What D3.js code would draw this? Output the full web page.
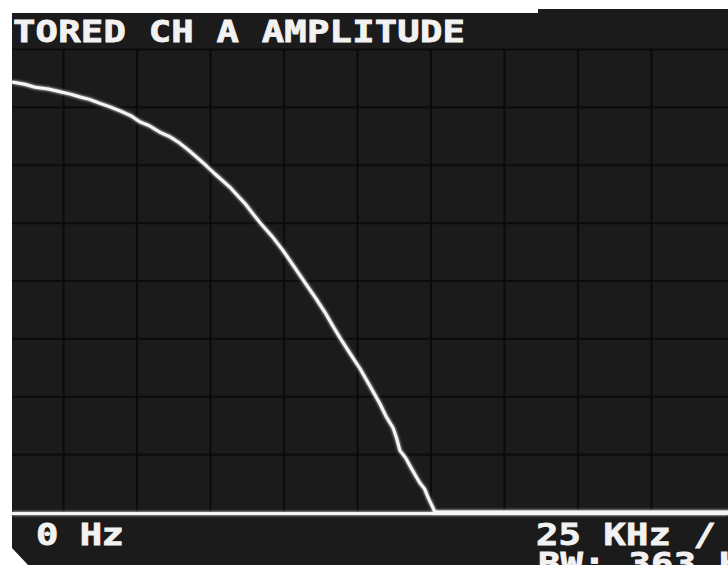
<!DOCTYPE html>
<html>
<head>
<meta charset="utf-8">
<script src="https://cdn.jsdelivr.net/npm/d3@7"></script>
<style>
  body { margin: 0; background: #fff; }
  svg { display: block; }
  text { font-family: "DejaVu Sans Mono", monospace; font-weight: bold; fill: #f2f2f2; }
</style>
</head>
<body>
<svg></svg>
<script>
var W = 728, H = 565;

// data: trace, frequency in kHz, amplitude in dB (10 dB/div)
var freq = [0.77, 1.2, 1.55, 2.0, 2.4, 2.75, 3.08, 3.4, 3.76, 4.1, 4.44, 4.8, 5.12, 5.45,
  5.8, 6.15, 6.48, 6.8, 7.16, 7.4, 7.67, 7.9, 8.18, 8.45, 8.69, 8.95, 9.2, 9.6, 9.98,
  10.4, 10.8, 11.1, 11.41, 11.65, 11.92, 12.25, 12.6, 12.95, 13.28, 13.5, 13.73, 13.85,
  13.96, 14.15, 14.3, 14.48, 14.64, 14.8, 14.91, 15.05, 15.15, 15.6, 25.2];
var ampl = [-5.7, -6.1, -6.6, -6.9, -7.4, -7.8, -8.3, -8.7, -9.4, -10.0, -10.7, -11.5, -12.6, -13.3,
  -14.4, -15.2, -16.3, -17.6, -19.2, -20.3, -21.6, -22.6, -23.9, -25.4, -26.7, -28.4, -30.0, -32.3, -34.8,
  -37.9, -40.9, -43.1, -45.5, -47.6, -49.9, -52.5, -55.2, -58.3, -61.3, -63.6, -65.5, -67.3,
  -69.4, -70.6, -72.0, -73.6, -75.0, -76.0, -77.4, -78.9, -80, -80, -80];

var freqTicks = [2.5, 5, 7.5, 10, 12.5, 15, 17.5, 20, 22.5];
var amplTicks = [-70, -60, -50, -40, -30, -20, -10, 0];
var title = "TORED CH A AMPLITUDE";
var startLabel = "0 Hz";
var stopLabel = "25 KHz /";
var bwLabel = "BW: 363 Hz";

var svg = d3.select("svg").attr("width", W).attr("height", H);

var defs = svg.append("defs");
var glow = defs.append("filter").attr("id", "glow")
  .attr("filterUnits", "userSpaceOnUse")
  .attr("x", 0).attr("y", 0).attr("width", W).attr("height", H);
glow.append("feGaussianBlur").attr("stdDeviation", 1.6).attr("result", "b");
var m = glow.append("feMerge");
m.append("feMergeNode").attr("in", "b");
m.append("feMergeNode").attr("in", "SourceGraphic");

// screen
svg.append("path")
  .attr("d", "M12,13 L538,13 L538,9 L728,9 L728,565 L28,565 L12,548 Z")
  .attr("fill", "#1b1b1b");

// scales
var x = d3.scaleLinear().domain([0, 25]).range([-10.5, 724.5]);
var y = d3.scaleLinear().domain([-80, 0]).range([512, 49]);

var plot = svg.append("g");

// grid
plot.append("g")
  .attr("transform", "translate(0,512)")
  .call(d3.axisBottom(x).tickValues(freqTicks).tickSize(-(512 - 49)).tickFormat(""))
  .call(g => g.select(".domain").remove())
  .call(g => g.selectAll("line").attr("stroke", "#080808").attr("stroke-width", 2.2).attr("opacity", 0.75));

plot.append("g")
  .attr("transform", "translate(12,0)")
  .call(d3.axisLeft(y).tickValues(amplTicks).tickSize(-(W - 12)).tickFormat(""))
  .call(g => g.select(".domain").remove())
  .call(g => g.selectAll("line").attr("stroke", "#080808").attr("stroke-width", 2.2).attr("opacity", 0.75));

// baseline
plot.append("line")
  .attr("x1", 12).attr("x2", W)
  .attr("y1", y(-80) + 1.5).attr("y2", y(-80) + 1.5)
  .attr("stroke", "#f4f4f4").attr("stroke-width", 3)
  .attr("filter", "url(#glow)");

// trace
var pts = freq.map((f, i) => [f, ampl[i]]);
plot.append("path")
  .datum(pts)
  .attr("d", d3.line().x(d => x(d[0])).y(d => y(d[1])))
  .attr("fill", "none")
  .attr("stroke", "#f6f6f6")
  .attr("stroke-width", 3)
  .attr("stroke-linejoin", "round")
  .attr("filter", "url(#glow)");

// texts, widened like the screen's block characters
function label(str, x0, y0, len) {
  var sx = 1.2;
  svg.append("text")
    .attr("transform", "translate(" + x0 + "," + y0 + ") scale(" + sx + ",1)")
    .attr("font-size", 31)
    .attr("textLength", len / sx).attr("lengthAdjust", "spacing")
    .attr("stroke", "#f2f2f2").attr("stroke-width", 0.8)
    .text(str);
}

label(title, 13, 42, 452);
label(startLabel, 36, 545, 88);
label(stopLabel, 536, 545, 180);
label(bwLabel, 538, 574, 226);
</script>
</body>
</html>
